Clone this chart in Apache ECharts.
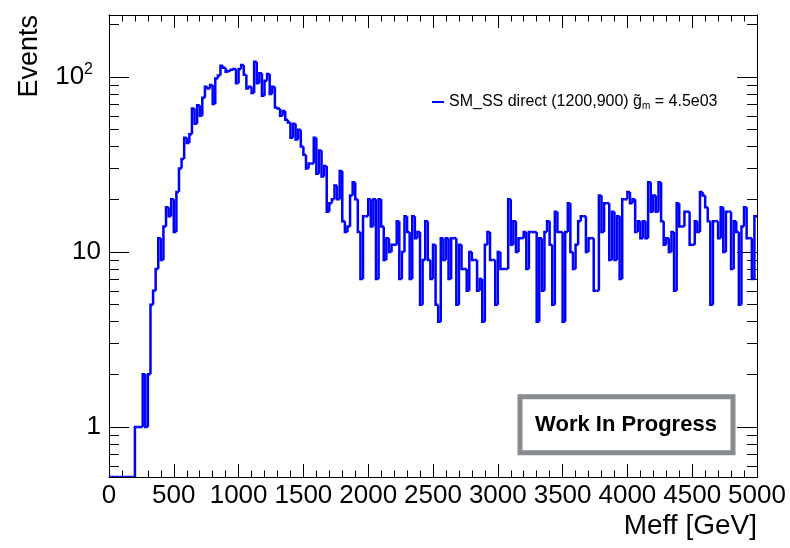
<!DOCTYPE html>
<html><head><meta charset="utf-8">
<script src="https://cdn.jsdelivr.net/npm/echarts@6/dist/echarts.min.js"></script>
<style>html,body{margin:0;padding:0;background:#fff}#c{width:790px;height:548px}</style>
</head><body><div id="c"></div>
<script>
// Histogram: Meff, 20 GeV bins from 0 to 5000 GeV
const binWidth = 20;
const xStart = 0;
const counts = [
  0,0,0,0,0,0,0,0,0,0,
  1,1,1,2,1,2,5,6,8,12,
  9,14,18,16,20,13,22,30,34,45,
  42,47,66,54,69,60,76,88,86,90,
  70,98,102,116,113,107,108,110,111,92,
  111,117,103,86,88,81,122,92,105,78,
  95,104,80,88,67,66,60,64,57,55,
  45,54,44,50,40,36,30,32,32,45,
  28,38,27,31,17,19,20,24,20,29,
  15,13,14,21,25,20,13,7,16,16,
  20,14,20,7,20,14,9,12,10,11,
  11,15,7,10,16,13,7,16,12,13,
  5,9,15,9,7,11,5,4,12,9,
  12,7,12,12,5,11,8,8,6,10,
  9,9,6,7,4,11,13,9,9,5,
  10,8,8,8,20,11,15,10,12,12,
  13,8,13,13,13,4,12,6,13,15,
  11,5,17,13,13,4,13,19,10,8,
  11,15,16,16,10,12,12,6,6,21,
  13,19,19,9,17,9,16,7,20,20,
  22,19,20,13,15,12,15,12,25,17,
  21,17,25,15,11,12,10,13,6,19,
  14,14,17,17,11,11,15,13,22,21,
  18,15,5,15,15,12,18,10,17,17,
  8,15,13,5,14,18,12,12,7,16
];
const xTickLabels = [0,500,1000,1500,2000,2500,3000,3500,4000,4500,5000];
const yMajorTicks = [1,10,100];
const yMinorTicks = [0.6,0.7,0.8,0.9,2,3,4,5,6,7,8,9,20,30,40,50,60,70,80,90,200];
const seriesName = 'SM_SS direct (1200,900) gm = 4.5e03';
const xTitle = 'Meff [GeV]';
const yTitle = 'Events';
const wipText = 'Work In Progress';

const X_MIN = 0, X_MAX = 5000, Y_MIN = 0.518, Y_MAX = 226;
const FONT = 'Liberation Sans, Arial, Helvetica, sans-serif';

const data = counts.map((v, i) => [xStart + i * binWidth, xStart + (i + 1) * binWidth, v, i === 0 ? v : counts[i - 1]]);

const chart = echarts.init(document.getElementById('c'), null, {renderer: 'canvas'});

const baseX = {
  type: 'value', min: X_MIN, max: X_MAX, interval: 500,
  axisLine: {show: true, onZero: false, lineStyle: {color: '#000', width: 1}},
  splitLine: {show: false},
  axisTick: {show: true, inside: true, length: 13, lineStyle: {color: '#000'}},
  minorTick: {show: true, splitNumber: 5, length: 6.5, lineStyle: {color: '#000'}},
  minorSplitLine: {show: false}
};
const baseY = {
  type: 'log', logBase: 10, min: Y_MIN, max: Y_MAX,
  axisLine: {show: true, onZero: false, lineStyle: {color: '#000', width: 1}},
  splitLine: {show: false},
  minorTick: {show: false}
};

const option = {
  animation: false,
  backgroundColor: '#fff',
  grid: {left: 109, top: 15, right: 33, bottom: 71, containLabel: false},
  xAxis: [
    Object.assign({}, baseX, {
      position: 'bottom',
      axisLabel: {show: true, fontSize: 26, color: '#000', fontFamily: FONT, margin: 6,
        customValues: xTickLabels, formatter: v => String(v)}
    }),
    Object.assign({}, baseX, {position: 'top', axisLabel: {show: false}})
  ],
  yAxis: [
    Object.assign({}, baseY, {
      position: 'left',
      axisTick: {show: true, inside: true, length: 20, customValues: yMajorTicks, lineStyle: {color: '#000'}},
      axisLabel: {show: true, customValues: yMajorTicks, margin: 8, color: '#000', fontFamily: FONT, fontSize: 26,
        formatter: v => {
          const e = Math.round(Math.log10(v));
          if (e === 2) return '{n|10}{s|2}';
          return '{n|' + String(Math.round(v)) + '}';
        },
        rich: {
          n: {fontSize: 26, fontFamily: FONT, color: '#000'},
          s: {fontSize: 16, fontFamily: FONT, color: '#000', padding: [0, 8, 14, 0]}
        }
      }
    }),
    Object.assign({}, baseY, {
      position: 'left', offset: 0,
      axisTick: {show: true, inside: true, length: 10, customValues: yMinorTicks, lineStyle: {color: '#000'}},
      axisLabel: {show: false}
    }),
    Object.assign({}, baseY, {
      position: 'right', offset: 0,
      axisTick: {show: true, inside: true, length: 20, customValues: yMajorTicks, lineStyle: {color: '#000'}},
      axisLabel: {show: false}
    }),
    Object.assign({}, baseY, {
      position: 'right', offset: 0,
      axisTick: {show: true, inside: true, length: 10, customValues: yMinorTicks, lineStyle: {color: '#000'}},
      axisLabel: {show: false}
    })
  ],
  legend: {
    show: true, left: 427, top: 89, orient: 'horizontal',
    icon: 'rect', itemWidth: 12, itemHeight: 2, itemGap: 5,
    selectedMode: false,
    data: [{name: seriesName, itemStyle: {color: '#0000ff'}}],
    formatter: () => 'SM_SS direct (1200,900) g\u0303{sub|m} = 4.5e03',
    textStyle: {fontSize: 16, fontFamily: FONT, color: '#000', padding: [0, 0, 0, 0],
      rich: {sub: {fontSize: 10, fontFamily: FONT, color: '#000', padding: [8, 0, 0, 0]}}}
  },
  series: [{
    name: seriesName,
    type: 'custom',
    coordinateSystem: 'cartesian2d',
    xAxisIndex: 0, yAxisIndex: 0,
    clip: true,
    encode: {x: [0, 1], y: 2},
    itemStyle: {color: '#0000ff'},
    data: data,
    renderItem: function (params, api) {
      const lo = api.value(0), hi = api.value(1);
      const v = Math.max(api.value(2), Y_MIN), pv = Math.max(api.value(3), Y_MIN);
      const p0 = api.coord([lo, pv]), p1 = api.coord([lo, v]), p2 = api.coord([hi, v]);
      return {type: 'polyline', shape: {points: [p0, p1, p2]},
        style: {stroke: '#0000ff', lineWidth: 2.5, fill: null}};
    }
  }],
  graphic: [
    {type: 'text', x: 30, y: 15, rotation: Math.PI / 2,
      style: {text: yTitle, fontSize: 27, fontFamily: FONT, fill: '#000', align: 'right', verticalAlign: 'middle'}},
    {type: 'text', x: 757, y: 526,
      style: {text: xTitle, fontSize: 28, fontFamily: FONT, fill: '#000', align: 'right', verticalAlign: 'middle'}},
    {type: 'rect', shape: {x: 520, y: 396.7, width: 213, height: 56},
      style: {fill: '#fff', stroke: '#888c90', lineWidth: 5}, z: 10},
    {type: 'text', x: 626, y: 425, z: 11,
      style: {text: wipText, fontSize: 22, fontWeight: 'bold', fontFamily: FONT, fill: '#000', align: 'center', verticalAlign: 'middle'}}
  ]
};
chart.setOption(option);
</script>
</body></html>
